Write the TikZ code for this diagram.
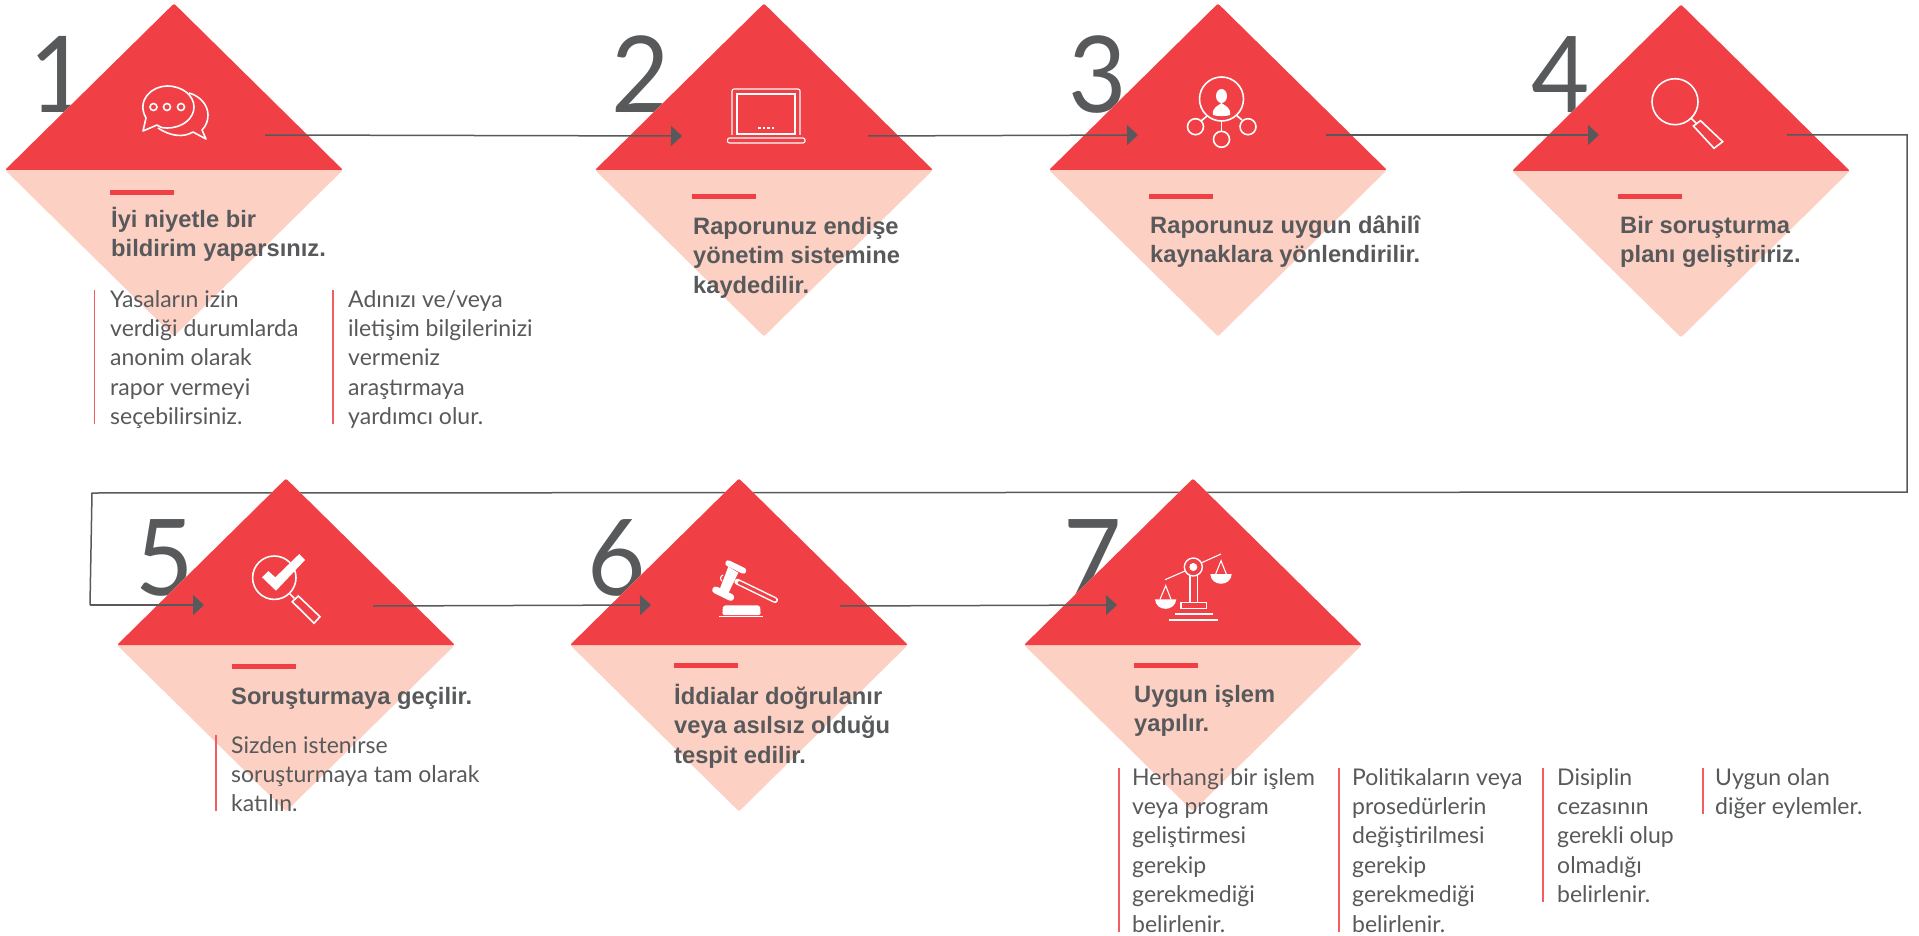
\documentclass[tikz,border=0pt]{standalone}
\usepackage{fontspec}
\usetikzlibrary{arrows.meta,shapes.geometric}
\setmainfont{Lato}
\newfontfamily\headfont{Liberation Sans}[BoldFont={Liberation Sans Bold}]
\definecolor{stepred}{HTML}{F04046}
\definecolor{steppink}{HTML}{FDD0C4}
\definecolor{stepgray}{HTML}{58595B}
\tikzset{
  stepnode/.style={diamond,aspect=1,inner sep=0pt,minimum width=338pt,minimum height=333pt,
    fill=steppink,rounded corners=2pt,
    path picture={\fill[stepred] (path picture bounding box.north west) rectangle (path picture bounding box.east);}},
  numtext/.style={anchor=base west,inner sep=0pt,text=stepgray,transform shape,xscale=.95,
    font=\fontsize{106}{106}\selectfont},
  headtext/.style={anchor=base west,inner sep=0pt,align=left,text=stepgray,
    font=\headfont\bfseries\fontsize{23.7}{29.7}\selectfont},
  bodytext/.style={anchor=base west,inner sep=0pt,align=left,text=stepgray,
    font=\fontsize{23}{29.4}\selectfont},
  headbar/.style={fill=stepred},
  sidebar/.style={draw=stepred!85!white,line width=1.2pt},
  link/.style={draw=stepgray,line width=1.5pt},
  linkto/.style={link,-{Triangle[length=11pt,width=20pt]}},
  iconline/.style={draw=white,line width=1.6pt},
  iconthin/.style={draw=white,line width=1.1pt},
  iconfill/.style={fill=white}
}
\begin{document}
\begin{tikzpicture}[x=1pt,y=-1pt]
  \useasboundingbox (0,0) rectangle (1919,936);
  % numbers
  \node[numtext] (num1) at (29,113) {1};
  \node[numtext] (num2) at (611,113) {2};
  \node[numtext] (num3) at (1068,113) {3};
  \node[numtext] (num4) at (1531,113) {4};
  \node[numtext] (num5) at (135,595) {5};
  \node[numtext] (num6) at (587,595) {6};
  \node[numtext] (num7) at (1063,595) {7};
  % upper row
  \node[stepnode] (step1) at (174,170) {};
  \node[stepnode] (step2) at (764,170) {};
  \node[stepnode] (step3) at (1218,170) {};
  \node[stepnode] (step4) at (1681,171) {};
  % link coordinates
  \coordinate (out1) at (265,135);
  \coordinate (in2) at (682,136);
  \coordinate (out2) at (868,136);
  \coordinate (in3) at (1138,135);
  \coordinate (out3) at (1326,135);
  \coordinate (in4) at (1599,135);
  \coordinate (out4) at (1787,135);
  \coordinate (turn1) at (1907,135);
  \coordinate (turn2) at (1907,492);
  \coordinate (turn3) at (92,493);
  \coordinate (turn4) at (90,605);
  \coordinate (in5) at (204,605);
  \coordinate (out5) at (373,606);
  \coordinate (in6) at (651,605);
  \coordinate (out6) at (840,606);
  \coordinate (in7) at (1117,605);
  % the long way back runs behind the lower row
  \draw[link,line join=miter] (out4) -- (turn1) -- (turn2) -- (turn3) -- (turn4);
  % lower row
  \node[stepnode] (step5) at (286,645) {};
  \node[stepnode] (step6) at (739,645) {};
  \node[stepnode] (step7) at (1193,645) {};
  \begin{scope}
    \draw[linkto] (turn4) -- (in5);
    \draw[linkto] (out1) -- (in2);
    \draw[linkto] (out2) -- (in3);
    \draw[linkto] (out3) -- (in4);
    \draw[linkto] (out5) -- (in6);
    \draw[linkto] (out6) -- (in7);
  \end{scope}
  % red bars
  \fill[headbar] (110,190) rectangle (174,195);
  \fill[headbar] (692,194) rectangle (756,199);
  \fill[headbar] (1149,194) rectangle (1213,199);
  \fill[headbar] (1618,194) rectangle (1682,199);
  \fill[headbar] (232,664) rectangle (296,669);
  \fill[headbar] (674,663) rectangle (738,668);
  \fill[headbar] (1134,663) rectangle (1198,668);
  % headings, placed by their last line
  \node[headtext] (head1) at (111,256.7) {İyi niyetle bir\\bildirim yaparsınız.};
  \node[headtext] (head2) at (693,293.4) {Raporunuz endişe\\yönetim sistemine\\kaydedilir.};
  \node[headtext] (head3) at (1150,262.7) {Raporunuz uygun dâhilî\\kaynaklara yönlendirilir.};
  \node[headtext] (head4) at (1620,262.7) {Bir soruşturma\\planı geliştiririz.};
  \node[headtext] (head5) at (231,704) {Soruşturmaya geçilir.};
  \node[headtext] (head6) at (674,763.4) {İddialar doğrulanır\\veya asılsız olduğu\\tespit edilir.};
  \node[headtext] (head7) at (1134,731.7) {Uygun işlem\\yapılır.};
  % side texts
  \draw[sidebar] (94.6,290) -- (94.6,424);
  \node[bodytext] (body1) at (110,424.6) {Yasaların izin\\verdiği durumlarda\\anonim olarak\\rapor vermeyi\\seçebilirsiniz.};
  \draw[sidebar] (333,290) -- (333,424);
  \node[bodytext] (body2) at (348,424.6) {Adınızı ve/veya\\iletişim bilgilerinizi\\vermeniz\\araştırmaya\\yardımcı olur.};
  \draw[sidebar] (216,735) -- (216,811);
  \node[bodytext] (body3) at (231,811.8) {Sizden istenirse\\soruşturmaya tam olarak\\katılın.};
  \draw[sidebar] (1119,768) -- (1119,932);
  \node[bodytext] (body4) at (1132,932) {Herhangi bir işlem\\veya program\\geliştirmesi\\gerekip\\gerekmediği\\belirlenir.};
  \draw[sidebar] (1339,768) -- (1339,932);
  \node[bodytext] (body5) at (1352,932) {Politikaların veya\\prosedürlerin\\değiştirilmesi\\gerekip\\gerekmediği\\belirlenir.};
  \draw[sidebar] (1543,768) -- (1543,902);
  \node[bodytext] (body6) at (1557,902.6) {Disiplin\\cezasının\\gerekli olup\\olmadığı\\belirlenir.};
  \draw[sidebar] (1703,768) -- (1703,814);
  \node[bodytext] (body7) at (1715,814.4) {Uygun olan\\diğer eylemler.};
  % chat icon
  \draw[iconline,line join=round] (146,118) .. controls (136,100) and (152,86) .. (167,86) .. controls (183,86) and (194,96) .. (194,107) .. controls (194,118) and (183,128) .. (167,128) .. controls (162,128) and (159,127) .. (157,125) -- (143,131) -- cycle;
  \draw[iconline,line join=round] (189,93) .. controls (200,96) and (208,105) .. (208,115) .. controls (208,121) and (206,126) .. (202,130) -- (206,139) -- (193,132) .. controls (183,138) and (170,136) .. (158,128);
  \draw[iconline] (153.5,107) circle[radius=3.5pt];
  \draw[iconline] (167,107) circle[radius=3.5pt];
  \draw[iconline] (181,107) circle[radius=3.5pt];
  % laptop icon
  \draw[iconthin,rounded corners=2pt] (732,135) -- (732,89) -- (800,89) -- (800,135);
  \draw[iconthin] (737,134) -- (737,94) -- (795,94) -- (795,134) -- cycle;
  \draw[iconthin,rounded corners=2pt] (727.5,138) -- (805,138) -- (805,143) -- (727.5,143) -- cycle;
  \draw[iconthin,dash pattern=on 2.5pt off 2pt] (758,128) -- (775,128);
  % network icon
  \draw[iconline] (1221.5,99) ellipse[x radius=22pt,y radius=22pt];
  \draw[iconline] (1195.5,126.7) circle[radius=8pt];
  \draw[iconline] (1248,126.7) circle[radius=8pt];
  \draw[iconline] (1221.5,139.3) circle[radius=8pt];
  \draw[iconline] (1221.5,121) -- (1221.5,131);
  \draw[iconline] (1207,116) -- (1201,121);
  \draw[iconline] (1236,115) -- (1242,120);
  \fill[iconfill] (1221.5,96) ellipse[x radius=5.5pt,y radius=7pt];
  \fill[iconfill] (1213,115) .. controls (1212,107) and (1218,106) .. (1221.5,103) .. controls (1225,106) and (1231,107) .. (1230,115) .. controls (1226,116.5) and (1217,116.5) .. (1213,115) -- cycle;
  % magnifier icon
  \draw[iconline] (1675,101.7) circle[radius=23pt];
  \draw[iconline] (1691,118) -- (1697,124);
  \draw[iconline] (1700.5,120.7) -- (1722.7,141.7) -- (1714,148.3) -- (1693.4,126) -- cycle;
  % magnifier with tick icon
  \draw[iconline] (274.3,577.7) circle[radius=21.7pt];
  \draw[iconline] (290,594) -- (294.3,598.3);
  \draw[iconline] (298.3,596) -- (320,616.7) -- (314,623.3) -- (292.3,601.7) -- cycle;
  \fill[iconfill] (262,577.3) -- (276,590.7) -- (305,560) -- (299.3,554) -- (275.3,577.3) -- (268.3,571) -- cycle;
  % gavel icon
  \draw[white,line width=6pt,line cap=round] (728.3,563.3) -- (743.3,570.7);
  \draw[white,line width=7pt,line cap=round] (715.7,590) -- (730.7,597.3);
  \fill[iconfill] (728.3,566.7) -- (738.3,572.7) -- (728.3,593.3) -- (720,588.3) -- cycle;
  \draw[iconthin] (723,575) .. controls (720,576) and (720,580) .. (722,581);
  \draw[white,line width=6pt,line cap=round] (737.3,581.7) -- (775,600);
  \draw[stepred,line width=3pt,line cap=round] (739,582.5) -- (775,600);
  \fill[iconfill,rounded corners=2pt] (722.3,615) -- (723,605.3) -- (760,605.3) -- (760.7,615) -- cycle;
  \draw[iconthin] (719.3,616.5) -- (762.7,616.5);
  % scales icon
  \draw[iconthin,line width=1.4pt] (1193.3,567) circle[radius=9pt];
  \fill[iconfill] (1193.3,567) circle[radius=4pt];
  \draw[iconthin] (1165,579.7) -- (1185,571);
  \draw[iconthin] (1201.7,562.7) -- (1221,554);
  \draw[iconthin] (1190,575) -- (1190,602.3);
  \draw[iconthin] (1197.3,575) -- (1197.3,602.3);
  \draw[iconthin] (1181,602.3) rectangle (1206.3,608.7);
  \draw[iconline,line width=1.4pt] (1175,614) -- (1213,614);
  \draw[iconline,line width=1.4pt] (1169,620) -- (1218,620);
  \draw[iconthin] (1160,599.3) -- (1165.7,585.7) -- (1171,599.3);
  \fill[iconfill] (1155,599.3) .. controls (1156,612) and (1175,612) .. (1176.3,599.3) -- cycle;
  \draw[iconthin] (1215.7,574) -- (1221,560.7) -- (1226.3,574);
  \fill[iconfill] (1210.3,574) .. controls (1211,587) and (1231,587) .. (1231.7,574) -- cycle;
\end{tikzpicture}
\end{document}
